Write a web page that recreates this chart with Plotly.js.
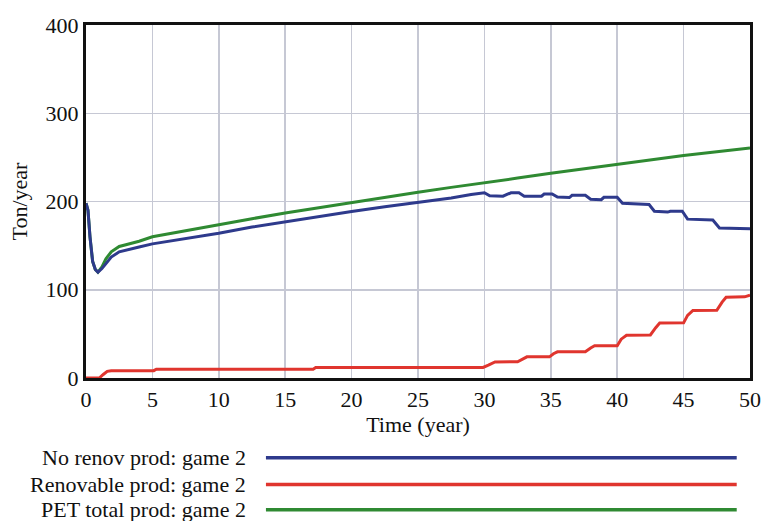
<!DOCTYPE html>
<html>
<head>
<meta charset="utf-8">
<script src="https://cdn.plot.ly/plotly-3.0.1.min.js"></script>
<style>html,body{margin:0;padding:0;background:#fff;}#chart{width:764px;height:521px;}</style>
</head>
<body>
<div id="chart"></div>
<script>
// Time (year) and values (Ton/year)
const blueTime = [0,0.15,0.3,0.5,0.7,0.9,1.2,1.5,1.9,2.5,3.0,4.0,5,7.5,10,12.5,15,17.5,20,22.5,25,27.5,29.0,29.7,30.0,30.4,31.4,31.7,32.0,32.6,33.0,34.3,34.5,35.1,35.5,36.4,36.6,37.6,38.0,38.8,39.0,40.0,40.4,42.4,42.8,43.8,44.0,44.9,45.3,47.2,47.7,50];
const blueVal  = [198,190,160,132,123,120,124,130,137,143,145,148.4,152,158,164,171,177,183,188.7,194,199,204,208,209.8,210,206.5,206,208,209.8,209.8,206,206,208.5,208.6,205,204.5,207,207,202.5,202,204.7,204.7,198,196.6,189,188,189,189,180,179,170,169];

const redTime = [0,1.0,1.3,1.6,1.9,5.1,5.3,17.1,17.3,29.9,30.3,30.8,32.5,32.9,33.2,34.9,35.2,35.5,37.6,38.0,38.3,40.0,40.3,40.7,42.5,42.9,43.2,45.0,45.3,45.7,47.5,47.9,48.2,49.6,50];
const redVal  = [0,0,4,7.5,8.3,8.3,10,10,12,12,14.5,18.2,18.4,21.5,24,24,27.5,29.7,29.7,34,36.5,36.5,44,48.5,48.8,57,62.3,62.5,71,76.6,76.8,86,91.5,92,94];

const greenTime = [0,0.15,0.3,0.5,0.7,0.9,1.2,1.5,1.9,2.5,3.0,4.0,5,7.5,10,12.5,15,17.5,20,22.5,25,27.5,30,32.5,35,37.5,40,42.5,45,47.5,50];
const greenVal  = [198,190,160,132,123,120,126,135,143,149,151,155,160,167,174,180.5,187,193,199,205,210.5,216,221,226.5,232,237,242.5,247.5,252,256.5,260.6];

const seriesNames = ['No renov prod: game 2','Renovable prod: game 2','PET total prod: game 2'];
const seriesColors = ['#2e3a8c','#e0352e','#2f8a32'];

const xTicks = [0,5,10,15,20,25,30,35,40,45,50];
const yTicks = [0,100,200,300,400];

const FONT = 'Liberation Serif, Times New Roman, serif';
const FS = 22;

const series = [
  {x: blueTime, y: blueVal, name: seriesNames[0], color: seriesColors[0]},
  {x: redTime, y: redVal, name: seriesNames[1], color: seriesColors[1]},
  {x: greenTime, y: greenVal, name: seriesNames[2], color: seriesColors[2]}
];
// draw green first so blue lies on top where they coincide
const traces = [series[2], series[1], series[0]].map(s=>({
  type:'scatter',mode:'lines',x:s.x,y:s.y,name:s.name,
  line:{color:s.color,width:3},showlegend:false,hoverinfo:'skip'
}));

// custom legend (text left, line right) in paper coordinates
const legendY = [-0.226,-0.302,-0.373];
const annotations = seriesNames.map((n,i)=>({
  xref:'paper',yref:'paper',x:0.244,y:legendY[i],xanchor:'right',yanchor:'middle',
  text:n,showarrow:false,font:{family:FONT,size:FS,color:'#111'}
}));
const shapes = seriesColors.map((c,i)=>({
  type:'line',xref:'paper',yref:'paper',x0:0.271,x1:0.980,y0:legendY[i],y1:legendY[i],
  line:{color:c,width:3.5}
}));

const layout = {
  width:764,height:521,
  margin:{l:86,r:14,t:25,b:143},
  paper_bgcolor:'#fff',plot_bgcolor:'#fff',
  font:{family:FONT,size:FS,color:'#111'},
  xaxis:{
    range:[0,50],tickvals:xTicks,ticktext:xTicks.map(String),
    showgrid:true,gridcolor:'#c6c8d4',gridwidth:1.5,zeroline:false,
    showline:true,linecolor:'#111',linewidth:3,mirror:true,ticks:'',
    tickfont:{family:FONT,size:FS,color:'#111'},
    title:{text:'Time (year)',font:{family:FONT,size:FS,color:'#111'},standoff:0}
  },
  yaxis:{
    range:[0,400],tickvals:yTicks,ticktext:yTicks.map(String),
    showgrid:true,gridcolor:'#c6c8d4',gridwidth:1.5,zeroline:false,
    showline:true,linecolor:'#111',linewidth:3,mirror:true,ticks:'',
    tickfont:{family:FONT,size:FS,color:'#111'},
    title:{text:'Ton/year',font:{family:FONT,size:FS,color:'#111'},standoff:12}
  },
  annotations:annotations,
  shapes:shapes
};

Plotly.newPlot('chart',traces,layout,{displayModeBar:false,staticPlot:true});
</script>
</body>
</html>
